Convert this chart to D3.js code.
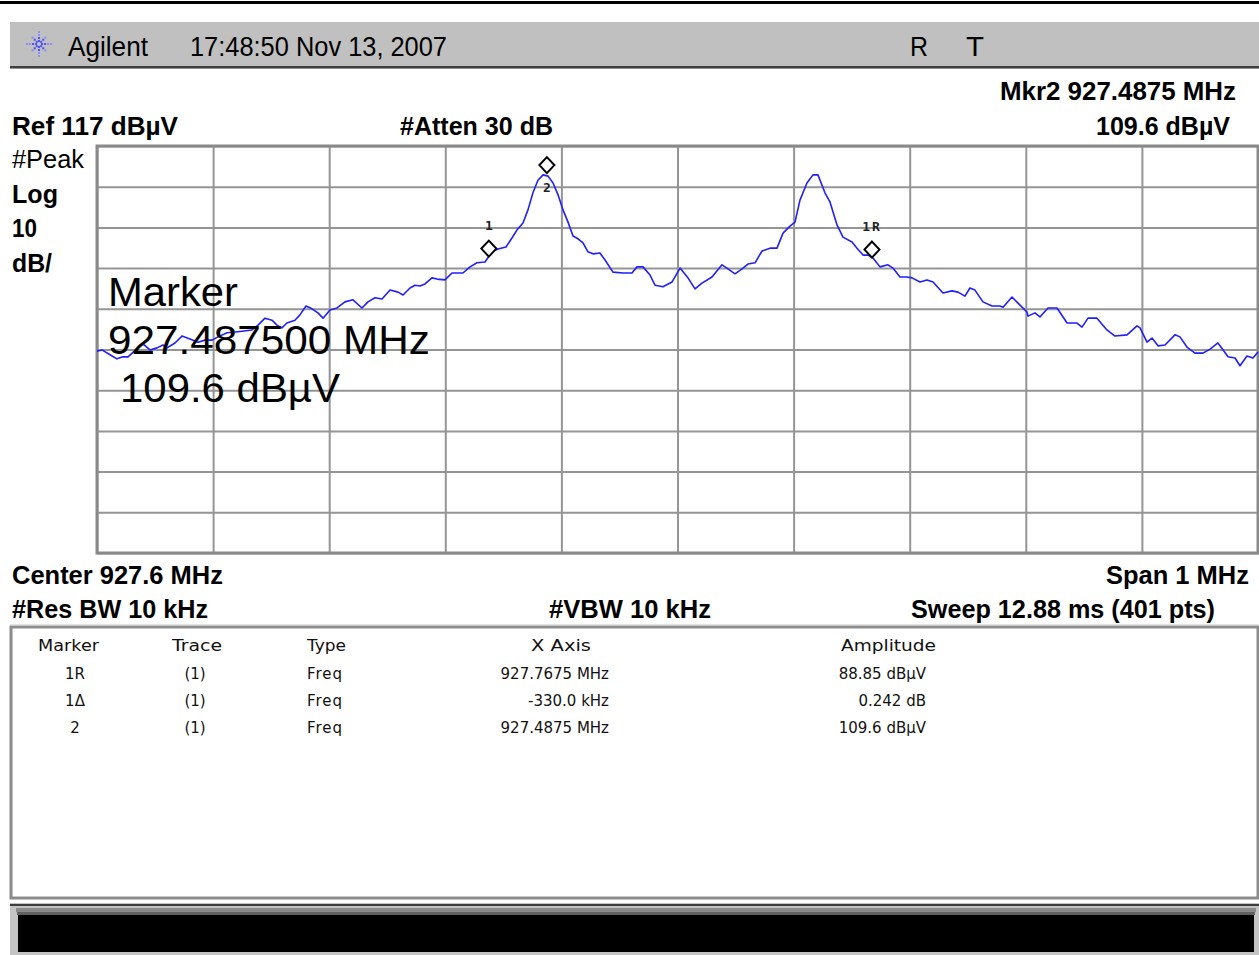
<!DOCTYPE html>
<html>
<head>
<meta charset="utf-8">
<script src="https://cdn.jsdelivr.net/npm/d3@7"></script>
<style>
  html, body { margin: 0; padding: 0; background: #ffffff; }
  svg { display: block; }
</style>
</head>
<body>
<svg id="chart" width="1259" height="955"></svg>
<script>
// ---------------- DATA ----------------
const startFreqMHz = 927.1;
const stopFreqMHz = 928.1;
const refLevel = 117;      // dBµV (top of screen)
const dbPerDiv = 10;
const numDivs = 10;

// Trace offset from start frequency (kHz) and amplitude (dBµV)
const traceOffsetKHz = [0,4.3,11.2,17.2,22.4,26.7,35.3,39.6,45.6,51.7,56.8,60.3,67.2,73.2,80.1,87.0,93.0,99.1,104.2,112.0,118.9,124.9,133.5,138.7,144.7,150.7,155.0,159.3,163.6,170.5,174.8,180.0,185.2,190.3,194.7,200.7,206.7,213.6,220.5,228.2,233.4,239.4,245.5,252.4,259.3,263.6,269.6,273.9,278.2,282.5,288.5,292.9,299.7,305.8,315.2,321.3,327.3,334.2,340.2,345.4,352.3,357.4,361.8,366.9,371.2,375.5,379.8,384.2,388.5,392.8,397.1,401.4,405.7,410.0,414.3,418.6,422.9,427.2,433.2,437.6,444.4,453.1,460.8,465.1,470.3,476.3,480.6,487.5,495.3,502.2,509.0,515.1,521.1,529.7,538.3,543.5,549.5,555.6,560.7,566.8,572.8,579.7,585.7,590.9,596.9,601.2,605.5,611.5,616.7,621.0,627.0,631.4,637.4,642.5,650.3,654.6,659.8,664.1,668.4,674.4,681.3,685.6,691.6,697.7,702.0,708.9,714.9,720.1,728.7,736.4,741.6,747.6,751.9,756.2,763.1,770.9,777.7,780.4,788.1,793.3,801.0,801.9,807.9,812.2,819.1,826.9,835.5,844.1,848.4,853.6,861.3,869.9,876.8,887.2,895.8,898.4,904.4,908.7,913.9,919.9,928.5,932.8,938.8,945.7,952.6,958.7,965.5,974.2,980.2,984.5,990.5,995.7,1000];
const traceAmp = [66.6,66.9,65.7,64.7,65.2,65.2,67.4,68.4,66.9,67.4,68.1,67.4,68.6,70.3,69.6,68.8,69.3,69.3,70.1,71.1,71.3,71.5,71.8,73.0,74.7,74.2,73.0,72.3,73.5,74.2,75.5,77.7,77.0,76.0,74.7,76.7,77.2,78.7,79.2,77.2,78.7,79.7,79.4,81.6,81.1,80.4,82.1,82.8,82.6,83.1,84.6,84.3,84.1,85.8,85.8,87.3,88.3,88.5,91.0,91.7,92.2,94.4,96.4,98.1,101.3,105.5,108.6,109.9,109.6,107.9,105.0,101.3,98.3,94.9,94.2,93.2,91.0,90.5,90.7,89.0,86.0,85.8,85.8,87.3,87.3,85.3,82.8,82.4,83.6,87.0,84.6,81.9,83.3,84.8,87.8,86.8,85.6,86.8,88.0,88.3,91.2,91.9,91.9,95.6,97.3,98.3,103.7,107.9,109.9,109.9,105.5,103.2,97.6,94.6,93.4,91.9,90.2,90.2,89.5,87.3,87.8,87.0,84.8,84.8,84.6,83.6,84.1,83.6,80.9,81.4,81.1,80.1,82.1,81.6,78.7,77.7,77.7,77.4,79.9,78.4,76.2,75.2,76.0,75.0,77.2,77.2,73.5,73.5,72.5,74.7,74.7,71.8,70.3,70.6,72.8,72.3,68.8,69.8,67.9,68.1,70.6,70.1,67.6,66.1,66.1,67.1,68.6,65.2,64.9,63.0,65.4,64.9,66.4];

// Markers
const markerNames = ["1R", "1", "2"];
const markerFreqMHz = [927.7675, 927.4375, 927.4875];
const markerAmp = [88.85, 89.09, 109.6];

// Marker table
const tableHeaders = ["Marker", "Trace", "Type", "X Axis", "Amplitude"];
const tableMarker = ["1R", "1\u0394", "2"];
const tableTrace = ["(1)", "(1)", "(1)"];
const tableType = ["Freq", "Freq", "Freq"];
const tableXAxis = ["927.7675 MHz", "-330.0 kHz", "927.4875 MHz"];
const tableAmplitude = ["88.85 dB\u00B5V", "0.242 dB", "109.6 dB\u00B5V"];

// ---------------- DRAW ----------------
const svg = d3.select("#chart");
const plot = {left: 97, right: 1258, top: 146, bottom: 553};

const x = d3.scaleLinear().domain([startFreqMHz, stopFreqMHz]).range([plot.left, plot.right]);
const y = d3.scaleLinear().domain([refLevel - dbPerDiv * numDivs, refLevel]).range([plot.bottom, plot.top]);

const boldFont = "'Liberation Sans Narrow', 'Liberation Sans', Arial, sans-serif";
const regFont = "'Liberation Sans', Arial, sans-serif";

function txt(g, s, px, py, opts) {
  const t = g.append("text")
    .attr("x", px).attr("y", py)
    .attr("font-family", opts.family || regFont)
    .attr("font-size", opts.size || 24)
    .attr("font-weight", opts.weight || "normal")
    .attr("fill", opts.fill || "#000")
    .attr("text-anchor", opts.anchor || "start")
    .text(s);
  if (opts.w) t.attr("textLength", opts.w).attr("lengthAdjust", "spacingAndGlyphs");
  return t;
}

// top black rule
svg.append("rect").attr("x", 0).attr("y", 1).attr("width", 1259).attr("height", 3).attr("fill", "#000");

// header bar
svg.append("rect").attr("x", 10).attr("y", 22).attr("width", 1249).attr("height", 45).attr("fill", "#c0c0c0");
svg.append("rect").attr("x", 10).attr("y", 66).attr("width", 1249).attr("height", 2).attr("fill", "#404040");
svg.append("rect").attr("x", 10).attr("y", 68).attr("width", 1249).attr("height", 1).attr("fill", "#909090");

// Agilent spark logo
const logo = svg.append("g").attr("transform", "translate(39,44)");
const rayAngles = d3.range(8).map(i => i * Math.PI / 4);
rayAngles.forEach(a => {
  [3, 6, 9, 12].forEach(r => {
    const big = (a / (Math.PI / 4)) % 2 === 0;
    if (!big && r === 12) return;
    logo.append("rect")
      .attr("x", Math.cos(a) * r - 1).attr("y", Math.sin(a) * r - 1)
      .attr("width", 2).attr("height", 2)
      .attr("fill", r <= 6 ? "#5050ff" : "#8c8cff");
  });
});

const hdr = svg.append("g");
txt(hdr, "Agilent", 68, 56, {size: 27, w: 80});
txt(hdr, "17:48:50  Nov 13, 2007", 190, 56, {size: 27, w: 257, family: boldFont});
txt(hdr, "R", 910, 56, {size: 27, w: 18});
txt(hdr, "T", 966, 56, {size: 27, w: 18});

// info labels
const info = svg.append("g");
const bs = 26;
txt(info, "Mkr2  927.4875 MHz", 1000, 100, {size: bs, weight: "bold", family: boldFont, w: 236});
txt(info, "Ref 117 dB\u00B5V", 12, 135, {size: bs, weight: "bold", family: boldFont, w: 166});
txt(info, "#Atten 30 dB", 400, 135, {size: bs, weight: "bold", family: boldFont, w: 153});
txt(info, "109.6 dB\u00B5V", 1096, 135, {size: bs, weight: "bold", family: boldFont, w: 134});
txt(info, "#Peak", 12, 168, {size: bs, family: boldFont, w: 72});
txt(info, "Log", 12, 203, {size: bs, weight: "bold", family: boldFont, w: 46});
txt(info, "10", 12, 237, {size: bs, weight: "bold", family: boldFont, w: 25});
txt(info, "dB/", 12, 272, {size: bs, weight: "bold", family: boldFont, w: 40});
txt(info, "Center 927.6 MHz", 12, 584, {size: bs, weight: "bold", family: boldFont, w: 211});
txt(info, "Span 1 MHz", 1106, 584, {size: bs, weight: "bold", family: boldFont, w: 143});
txt(info, "#Res BW 10 kHz", 12, 618, {size: bs, weight: "bold", family: boldFont, w: 196});
txt(info, "#VBW 10 kHz", 549, 618, {size: bs, weight: "bold", family: boldFont, w: 162});
txt(info, "Sweep 12.88 ms (401 pts)", 911, 618, {size: bs, weight: "bold", family: boldFont, w: 304});

// grid
const gridColor = "#959595";
const xTicks = d3.range(numDivs + 1).map(i => startFreqMHz + i * (stopFreqMHz - startFreqMHz) / numDivs);
const yTicks = d3.range(numDivs + 1).map(i => refLevel - i * dbPerDiv);
const gx = svg.append("g").attr("transform", `translate(0,${plot.bottom})`)
  .call(d3.axisBottom(x).tickValues(xTicks).tickSize(-(plot.bottom - plot.top)).tickFormat(""));
const gy = svg.append("g").attr("transform", `translate(${plot.left},0)`)
  .call(d3.axisLeft(y).tickValues(yTicks).tickSize(-(plot.right - plot.left)).tickFormat(""));
[gx, gy].forEach(g => {
  g.select(".domain").remove();
  g.selectAll(".tick line").attr("stroke", gridColor).attr("stroke-width", 2);
});
// frame
svg.append("rect").attr("x", plot.left).attr("y", plot.top)
  .attr("width", plot.right - plot.left).attr("height", plot.bottom - plot.top)
  .attr("fill", "none").attr("stroke", "#8a8a8a").attr("stroke-width", 3);

// trace
const traceData = traceOffsetKHz.map((k, i) => ({f: startFreqMHz + k / 1000, a: traceAmp[i]}));
svg.append("path").datum(traceData)
  .attr("fill", "none").attr("stroke", "#1f1fff").attr("stroke-width", 1.6)
  .attr("stroke-linejoin", "round")
  .attr("d", d3.line().x(d => x(d.f)).y(d => y(d.a)));

// markers
const mk = svg.append("g");
markerNames.forEach((n, i) => {
  const mx = x(markerFreqMHz[i]);
  const my = y(markerAmp[i]) - 11;
  mk.append("path")
    .attr("d", `M${mx},${my - 8} L${mx + 7.5},${my} L${mx},${my + 8} L${mx - 7.5},${my} Z`)
    .attr("fill", "#fff").attr("stroke", "#000").attr("stroke-width", 2);
  const labelY = n === "2" ? my + 27 : my - 19;
  mk.append("text").attr("x", mx).attr("y", labelY)
    .attr("text-anchor", "middle")
    .attr("font-family", "'DejaVu Sans Mono', monospace").attr("font-size", 13)
    .attr("font-weight", "bold")
    .attr("fill", "#222").attr("letter-spacing", n.length > 1 ? 2 : 0)
    .text(n);
});

// big marker readout
const big = svg.append("g");
txt(big, "Marker", 108, 306, {size: 41, w: 130});
txt(big, "927.487500 MHz", 108, 354, {size: 41, w: 322});
txt(big, "109.6 dB\u00B5V", 120, 402, {size: 41, w: 220});

// marker table box
svg.append("rect").attr("x", 11).attr("y", 627).attr("width", 1247).attr("height", 271)
  .attr("fill", "#fff").attr("stroke", "#8c8c8c").attr("stroke-width", 3);
svg.append("line").attr("x1", 10).attr("x2", 1259).attr("y1", 625).attr("y2", 625)
  .attr("stroke", "#c8c8c8").attr("stroke-width", 1);

const tbl = svg.append("g").attr("font-family", "'DejaVu Sans', sans-serif").attr("fill", "#111");
const hdrX = [38, 172, 307, 531, 841];
const hdrW = [61, 50, 39, 60, 95];
tableHeaders.forEach((h, i) => {
  tbl.append("text").attr("x", hdrX[i]).attr("y", 651)
    .attr("font-size", 15).attr("textLength", hdrW[i]).attr("lengthAdjust", "spacingAndGlyphs").text(h);
});
const rowY = [679, 706, 733];
tableMarker.forEach((m, r) => {
  tbl.append("text").attr("x", 75).attr("y", rowY[r]).attr("text-anchor", "middle").attr("font-size", 15).text(m);
  tbl.append("text").attr("x", 195).attr("y", rowY[r]).attr("text-anchor", "middle").attr("font-size", 15).text(tableTrace[r]);
  tbl.append("text").attr("x", 307).attr("y", rowY[r]).attr("text-anchor", "start").attr("font-size", 15)
    .attr("letter-spacing", 1).text(tableType[r]);
  tbl.append("text").attr("x", 609).attr("y", rowY[r]).attr("text-anchor", "end").attr("font-size", 15).text(tableXAxis[r]);
  tbl.append("text").attr("x", 926).attr("y", rowY[r]).attr("text-anchor", "end").attr("font-size", 15).text(tableAmplitude[r]);
});

// bottom status bar
svg.append("rect").attr("x", 10).attr("y", 903).attr("width", 1249).attr("height", 52).attr("fill", "#c4c4c4");
svg.append("rect").attr("x", 10).attr("y", 904).attr("width", 1249).attr("height", 2).attr("fill", "#3c3c3c");
svg.append("rect").attr("x", 16).attr("y", 908).attr("width", 1240).attr("height", 4).attr("fill", "#8a8a8a");
svg.append("rect").attr("x", 17).attr("y", 912).attr("width", 1238).attr("height", 3).attr("fill", "#606060");
svg.append("rect").attr("x", 18).attr("y", 915).attr("width", 1236).attr("height", 37).attr("fill", "#000");
</script>
</body>
</html>
